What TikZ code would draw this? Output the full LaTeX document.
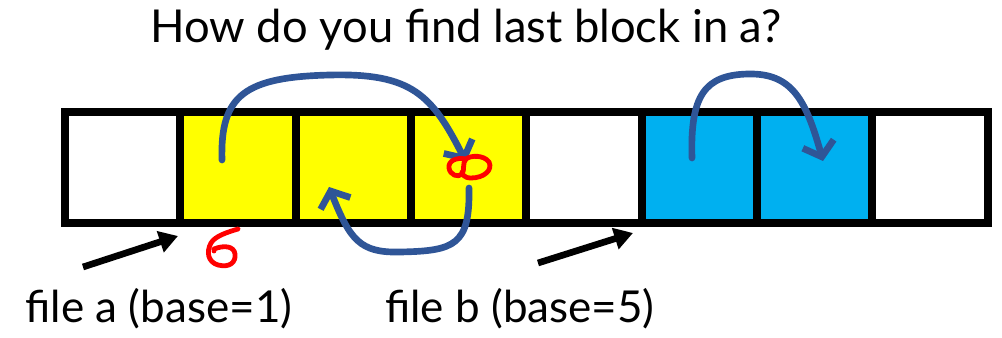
\documentclass[tikz,border=0pt]{standalone}
\usepackage{fontspec}
\setmainfont{Lato}
\usetikzlibrary{arrows.meta}
\definecolor{fileA}{HTML}{FFFF00}
\definecolor{fileB}{HTML}{00B0F0}
\definecolor{link}{HTML}{2F5597}
\definecolor{penred}{HTML}{FF0000}
\tikzset{
  cell/.style={draw=black, line width=6pt, minimum width=86.5pt, minimum height=83.25pt, inner sep=0pt},
  linkarrow/.style={draw=link, line width=5pt, line cap=round,
    -{Straight Barb[length=10pt, width=24pt, line width=5pt]}},
  basearrow/.style={draw=black, line width=5pt, -{Triangle[length=14pt, width=16pt]}},
  scribble/.style={draw=penred, line width=3.6pt, line cap=round, line join=round},
  caption/.style={font=\fontsize{34}{40}\selectfont, inner sep=0pt}
}
\begin{document}
\begin{tikzpicture}[x=0.75pt, y=-0.75pt]
\useasboundingbox (0,0) rectangle (1002,338);

% title
\node[caption] (title) at (466,30) {How do you find last block in a?};

% the disk blocks
\node[cell, fill=white] (c0) at (122.7,167.5) {};
\node[cell, fill=fileA] (c1) at (238.0,167.5) {};
\node[cell, fill=fileA] (c2) at (353.4,167.5) {};
\node[cell, fill=fileA] (c3) at (468.7,167.5) {};
\node[cell, fill=white] (c4) at (584.1,167.5) {};
\node[cell, fill=fileB] (c5) at (699.4,167.5) {};
\node[cell, fill=fileB] (c6) at (814.8,167.5) {};
\node[cell, fill=white] (c7) at (930.1,167.5) {};

% link pointers between blocks
\coordinate (a1) at (222,160);
\coordinate (a3in) at (466,162);
\coordinate (a3out) at (469,188);
\coordinate (a2in) at (329,187);
\coordinate (b1) at (692,158);
\coordinate (b2in) at (823,161);

\draw[linkarrow] (a1) .. controls (220,95) and (245,77) .. (330,75)
  .. controls (412,73) and (432,95) .. (a3in);
\draw[linkarrow] (a3out) .. controls (470,245) and (455,251) .. (400,252)
  .. controls (360,253) and (350,240) .. (a2in);
\draw[linkarrow] (b1) .. controls (690,95) and (705,75) .. (748,74)
  .. controls (792,73) and (806,100) .. (b2in);

% hand-drawn marks
\draw[scribble] (466,159) .. controls (456,157) and (448,161) .. (449,168)
  .. controls (450,175) and (458,178) .. (462,174)
  .. controls (465,170) and (462,163) .. (466,159)
  .. controls (471,155) and (484,155) .. (489,162)
  .. controls (493,170) and (484,178) .. (471,178)
  .. controls (464,178) and (462,174) .. (462,172);
\draw[scribble] (238,229) .. controls (228,232) and (215,236) .. (211,243)
  .. controls (206,252) and (208,262) .. (218,265)
  .. controls (230,268) and (236,262) .. (235,254)
  .. controls (234,246) and (224,245) .. (214,249);
\fill[penred] (214,251) circle (2.4);

% base pointers
\coordinate (la) at (83,267);
\coordinate (lat) at (178,236);
\coordinate (lb) at (538,263);
\coordinate (lbt) at (633,233);
\draw[basearrow] (la) -- (lat);
\draw[basearrow] (lb) -- (lbt);

% file labels
\node[caption, font=\fontsize{33}{40}\selectfont] (fa) at (159,309) {file a (base=1)};
\node[caption, font=\fontsize{33}{40}\selectfont] (fb) at (520,309) {file b (base=5)};
\end{tikzpicture}
\end{document}
